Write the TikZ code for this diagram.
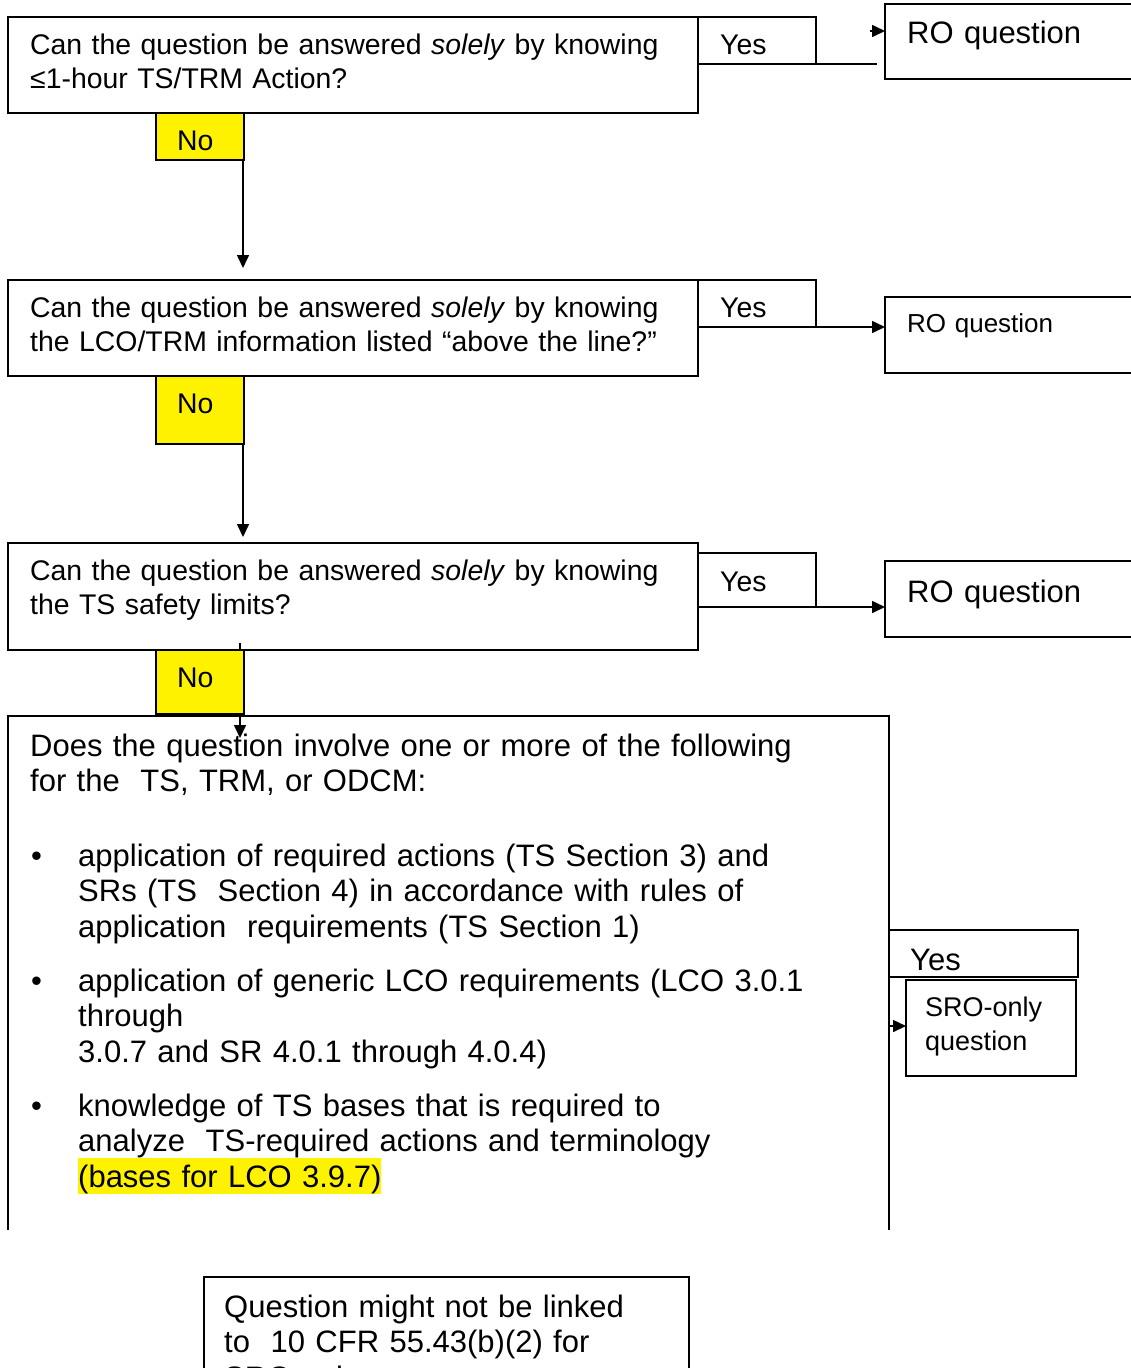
\documentclass[tikz,border=0pt]{standalone}
\usepackage{fontspec}
\setmainfont{Liberation Sans}
\usetikzlibrary{arrows.meta}

\begin{document}
\begin{tikzpicture}[x=1pt, y=-1pt,
  box/.style={draw, line width=1.6pt, inner sep=0pt, outer sep=0pt, anchor=north west},
  nobox/.style={box, fill=yellow},
  txt/.style={anchor=base west, inner sep=0pt, text width=#1, align=left},
  txt/.default=650pt,
  fmain/.style={font=\fontsize{28.4}{34}\selectfont},
  fbig/.style={font=\fontsize{31}{35.5}\selectfont},
  fsmall/.style={font=\fontsize{26}{30}\selectfont},
  fsro/.style={font=\fontsize{27}{34}\selectfont},
  conn/.style={line width=1.6pt},
  arr/.style={line width=1.6pt, -{Triangle[length=13pt,width=12pt]}}
]
\useasboundingbox (0,0) rectangle (1131,1368);
\clip (0,0) rectangle (1131,1368);

% ---------- first question ----------
\node[box, minimum width=690pt, minimum height=96pt] (q1) at (8,17) {};
\node[txt, fmain] (q1t) at (30,54)
  {Can the question be answered \textit{solely} by knowing\\ ≤1-hour TS/TRM Action?};
\node[box, minimum width=118pt, minimum height=47pt] (yes1) at (698,17) {};
\node[txt=100pt, fmain] (yes1t) at (720,54) {Yes};
\node[box, minimum width=300pt, minimum height=75pt] (ro1) at (885,4) {};
\node[txt=220pt, fbig] (ro1t) at (907,43) {RO question};
\coordinate (y1end) at (877,64);
\draw[conn] (yes1.south east) -- (y1end);
\coordinate (t1) at (870,31);
\draw[arr] (t1) -- (t1 -| ro1.west);

% ---------- second question ----------
\node[box, minimum width=690pt, minimum height=96pt] (q2) at (8,280) {};
\node[txt, fmain] (q2t) at (30,317)
  {Can the question be answered \textit{solely} by knowing\\ the LCO/TRM information listed “above the line?”};
\node[box, minimum width=118pt, minimum height=47pt] (yes2) at (698,280) {};
\node[txt=100pt, fmain] (yes2t) at (720,317) {Yes};
\node[box, minimum width=300pt, minimum height=76pt] (ro2) at (885,297) {};
\node[txt=220pt, fsmall] (ro2t) at (907,332) {RO question};
\draw[arr] (yes2.south east) -- (yes2.south east -| ro2.west);

% ---------- third question ----------
\node[box, minimum width=690pt, minimum height=107pt] (q3) at (8,543) {};
\node[txt, fmain] (q3t) at (30,580)
  {Can the question be answered \textit{solely} by knowing\\ the TS safety limits?};
\node[box, minimum width=118pt, minimum height=54pt] (yes3) at (698,553) {};
\node[txt=100pt, fmain] (yes3t) at (720,591) {Yes};
\node[box, minimum width=300pt, minimum height=76pt] (ro3) at (885,561) {};
\node[txt=220pt, fbig] (ro3t) at (907,602) {RO question};
\draw[arr] (yes3.south east) -- (yes3.south east -| ro3.west);

% ---------- "No" branches ----------
\coordinate (d1) at (243,268);
\coordinate (d2) at (243,537);
\coordinate (n3top) at (240,643);
\coordinate (d3) at (240,738);
\draw[arr] (n3top) -- (d3);

\node[nobox, minimum width=88pt, minimum height=47pt] (no1) at (156,113) {};
\node[txt=60pt, fmain] (no1t) at (177,150) {No};
\draw[arr] ([xshift=-1pt]no1.south east) -- (d1);

\node[nobox, minimum width=88pt, minimum height=68pt] (no2) at (156,376) {};
\node[txt=60pt, fmain] (no2t) at (177,413) {No};
\draw[arr] ([xshift=-1pt]no2.south east) -- (d2);

\node[nobox, minimum width=88pt, minimum height=64pt] (no3) at (156,650) {};
\node[txt=60pt, fmain] (no3t) at (177,687) {No};

% ---------- fourth question (open at the bottom) ----------
\coordinate (q4bl) at (8,1230);
\coordinate (q4tl) at (8,716);
\coordinate (q4tr) at (889,716);
\coordinate (q4br) at (889,1230);
\draw[conn] (q4bl) -- (q4tl) -- (q4tr) -- (q4br);

\node[txt=860pt, fbig] (q4t) at (30,756)
  {Does the question involve one or more of the following\\ for the\ \ TS, TRM, or ODCM:};

\node[txt=20pt, fbig] (b1) at (31,866) {•};
\node[txt=800pt, fbig] (i1) at (78,866)
  {application of required actions (TS Section 3) and\\
   SRs (TS\ \ Section 4) in accordance with rules of\\
   application\ \ requirements (TS Section 1)};

\node[txt=20pt, fbig] (b2) at (31,991) {•};
\node[txt=800pt, fbig] (i2) at (78,991)
  {application of generic LCO requirements (LCO 3.0.1\\
   through\\
   3.0.7 and SR 4.0.1 through 4.0.4)};

\node[txt=20pt, fbig] (b3) at (31,1116) {•};
\node[txt=800pt, fbig] (i3) at (78,1116)
  {knowledge of TS bases that is required to\\
   analyze\ \ TS-required actions and terminology\\
   {\setlength{\fboxsep}{0pt}\colorbox{yellow}{\rule[-7pt]{0pt}{36pt}(bases for LCO 3.9.7)}}};

% ---------- SRO-only branch ----------
\node[box, minimum width=189pt, minimum height=47pt] (yes4) at (889,930) {};
\node[txt=150pt, fbig] (yes4t) at (910,970) {Yes};
\node[box, line width=1.3pt, minimum width=170pt, minimum height=96pt] (sro) at (906,980) {};
\node[txt=150pt, fsro] (srot) at (925,1016) {SRO-only\\ question};
\coordinate (t4) at (890,1026);
\draw[arr] (t4) -- (t4 -| sro.west);

% ---------- closing note ----------
\node[box, minimum width=485pt, minimum height=150pt] (note) at (204,1277) {};
\node[txt=470pt, fbig] (notet) at (224,1317)
  {Question might not be linked\\ to\ \ 10 CFR 55.43(b)(2) for\\ SRO-only};
\end{tikzpicture}
\end{document}
